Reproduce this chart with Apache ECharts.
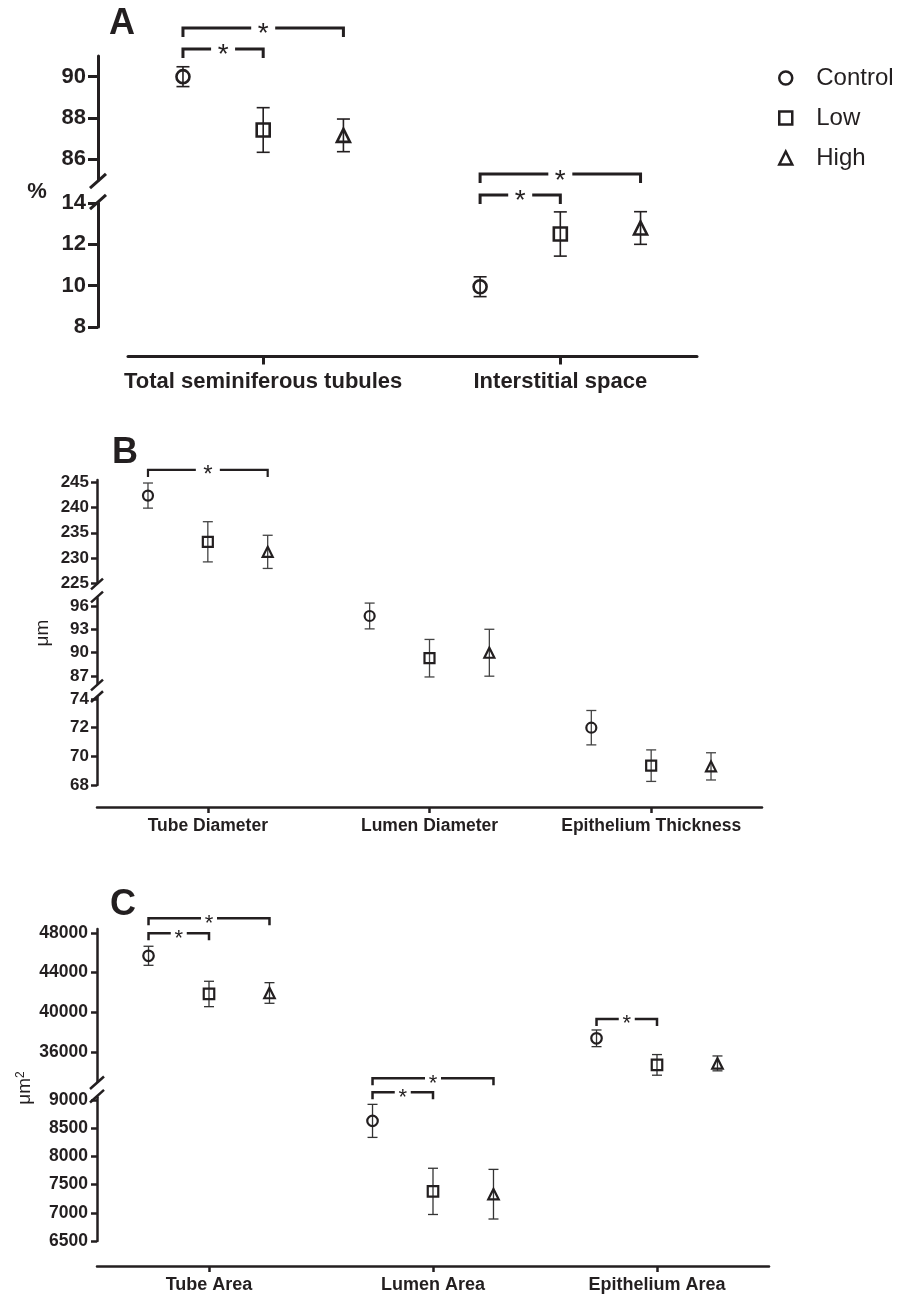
<!DOCTYPE html>
<html>
<head>
<meta charset="utf-8">
<script src="https://cdn.jsdelivr.net/npm/echarts@6/dist/echarts.min.js"></script>
<style>
  html, body { margin: 0; padding: 0; background: #fff; }
  #chart { width: 901px; height: 1300px; }
</style>
</head>
<body>
<div id="chart"></div>
<script>
// groups shown in the legend
var groups = ['Control', 'Low', 'High'];

// Panel A (%)
var catsA = ['Total seminiferous tubules', 'Interstitial space'];
var aControl = [90.0, 9.95];
var aControlErr = [0.48, 0.48];
var aLow = [87.42, 12.5];
var aLowErr = [1.08, 1.07];
var aHigh = [87.16, 12.79];
var aHighErr = [0.79, 0.79];
var aSegMin = [85, 8];
var aSegMax = [91, 14];
var aTicks = [[86, 88, 90], [8, 10, 12, 14]];
// [category, from group, to group, bracket level]
var aBrackets = [[0, 0, 2, 92.36], [0, 0, 1, 91.34], [1, 0, 2, 15.4], [1, 0, 1, 14.39]];

// Panel B (um)
var catsB = ['Tube Diameter', 'Lumen Diameter', 'Epithelium Thickness'];
var bControl = [242.4, 94.7, 72.0];
var bControlErr = [2.5, 1.65, 1.2];
var bLow = [233.2, 89.3, 69.35];
var bLowErr = [4.0, 2.4, 1.1];
var bHigh = [231.2, 90.0, 69.3];
var bHighErr = [3.3, 3.0, 0.95];
var bSegMin = [225, 86, 68];
var bSegMax = [245.5, 97, 74.1];
var bTicks = [[225, 230, 235, 240, 245], [87, 90, 93, 96], [68, 70, 72, 74]];
var bBrackets = [[0, 0, 2, 247.5]];

// Panel C (um2)
var catsC = ['Tube Area', 'Lumen Area', 'Epithelium Area'];
var cControl = [45700, 8630, 37380];
var cControlErr = [960, 293, 840];
var cLow = [41850, 7380, 34700];
var cLowErr = [1280, 410, 1040];
var cHigh = [41950, 7330, 34850];
var cHighErr = [1040, 440, 750];
var cSegMin = [33000, 6500];
var cSegMax = [48400, 9050];
var cTicks = [[36000, 40000, 44000, 48000], [6500, 7000, 7500, 8000, 8500, 9000]];
var cBrackets = [[0, 0, 2, 49480], [0, 0, 1, 47970], [1, 0, 2, 9385], [1, 0, 1, 9137], [2, 0, 1, 39330]];

var INK = '#231f20';
var FONT = 'Liberation Sans, Arial, Helvetica, sans-serif';
var symbols = ['circle', 'rect', 'triangle'];
var offsets = [-0.27, 0, 0.27];

// layout + style for each panel
var panels = [
  {
    cats: catsA, means: [aControl, aLow, aHigh], errs: [aControlErr, aLowErr, aHighErr],
    segMin: aSegMin, segMax: aSegMax, ticks: aTicks, brackets: aBrackets,
    left: 128, right: 204, yOffset: 30, xOffset: 29.5, xMin: -0.455, xMax: 1.46,
    segs: [[56, 124], [203, 124]],
    axisW: 3, tickLen: 10, xTickLen: 8, yFont: 22, xFont: 22, yMargin: 12, xMargin: 14,
    symSize: 13, symBorder: 2.6, errW: 1.6, cap: 6.5, errColor: INK,
    brW: 3, leg: 9, gap: 12, starFont: 28, slash: 8
  },
  {
    cats: catsB, means: [bControl, bLow, bHigh], errs: [bControlErr, bLowErr, bHighErr],
    segMin: bSegMin, segMax: bSegMax, ticks: bTicks, brackets: bBrackets,
    left: 97, right: 139, yOffset: 0, xOffset: 22, xMin: -0.5, xMax: 2.5,
    segs: [[480, 103], [598, 86], [697.6, 87.4]],
    axisW: 2.5, tickLen: 6, xTickLen: 6, yFont: 17, xFont: 17.5, yMargin: 8, xMargin: 10,
    symSize: 10, symBorder: 2.2, errW: 1.3, cap: 5, errColor: '#444',
    brW: 2.2, leg: 7, gap: 12, starFont: 24, slash: 6
  },
  {
    cats: catsC, means: [cControl, cLow, cHigh], errs: [cControlErr, cLowErr, cHighErr],
    segMin: cSegMin, segMax: cSegMax, ticks: cTicks, brackets: cBrackets,
    left: 97, right: 132, yOffset: 0, xOffset: 25, xMin: -0.5, xMax: 2.5,
    segs: [[929, 152.75], [1097.2, 143.8]],
    axisW: 2.5, tickLen: 6, xTickLen: 6, yFont: 17.5, xFont: 18, yMargin: 9, xMargin: 10,
    symSize: 10.5, symBorder: 2.2, errW: 1.3, cap: 5, errColor: '#333',
    brW: 2.5, leg: 7, gap: 8, starFont: 22, slash: 7
  }
];

function segOf(v, p) {
  for (var s = 0; s < p.segMin.length; s++) {
    if (v >= p.segMin[s] && v <= p.segMax[s]) return s;
  }
  return -1;
}

function errRender(p) {
  return function (params, api) {
    var x = api.value(0);
    var a = api.coord([x, api.value(2)]);
    var b = api.coord([x, api.value(1)]);
    var st = { stroke: p.errColor, lineWidth: p.errW };
    return {
      type: 'group',
      children: [
        { type: 'line', shape: { x1: a[0], y1: a[1], x2: b[0], y2: b[1] }, style: st },
        { type: 'line', shape: { x1: a[0] - p.cap, y1: a[1], x2: a[0] + p.cap, y2: a[1] }, style: st },
        { type: 'line', shape: { x1: b[0] - p.cap, y1: b[1], x2: b[0] + p.cap, y2: b[1] }, style: st }
      ]
    };
  };
}

function bracketRender(p) {
  return function (params, api) {
    var y = api.value(2);
    var a = api.coord([api.value(0), y]);
    var b = api.coord([api.value(1), y]);
    var mid = (a[0] + b[0]) / 2;
    var st = { stroke: INK, lineWidth: p.brW, fill: null };
    return {
      type: 'group',
      children: [
        { type: 'polyline', shape: { points: [[a[0], a[1] + p.leg], [a[0], a[1]], [mid - p.gap, a[1]]] }, style: st },
        { type: 'polyline', shape: { points: [[mid + p.gap, a[1]], [b[0], a[1]], [b[0], a[1] + p.leg]] }, style: st },
        { type: 'text', style: { text: '*', x: mid, y: a[1] + p.starFont * 0.24, align: 'center', verticalAlign: 'middle',
          font: p.starFont + 'px ' + FONT, fill: INK } }
      ]
    };
  };
}

var grids = [], xAxes = [], yAxes = [], series = [], graphics = [];

panels.forEach(function (p) {
  var nSeg = p.segs.length;
  var catIdx = p.cats.map(function (c, i) { return i; });
  for (var s = 0; s < nSeg; s++) {
    var gi = grids.length;
    var last = s === nSeg - 1;
    grids.push({ left: p.left, right: p.right, top: p.segs[s][0], height: p.segs[s][1] });
    xAxes.push({
      gridIndex: gi, type: 'value', min: p.xMin, max: p.xMax, show: last,
      offset: p.xOffset,
      axisLine: { show: true, onZero: false, lineStyle: { color: INK, width: p.axisW } },
      axisTick: { show: true, customValues: catIdx, length: p.xTickLen, lineStyle: { color: INK, width: p.axisW } },
      axisLabel: {
        show: true, customValues: catIdx, margin: p.xMargin,
        formatter: (function (cats) { return function (v) { return cats[Math.round(v)]; }; })(p.cats),
        color: INK, fontSize: p.xFont, fontWeight: 'bold', fontFamily: FONT
      },
      splitLine: { show: false }
    });
    yAxes.push({
      gridIndex: gi, type: 'value', min: p.segMin[s], max: p.segMax[s], offset: p.yOffset,
      axisLine: { show: true, onZero: false, lineStyle: { color: INK, width: p.axisW } },
      axisTick: { show: true, customValues: p.ticks[s], length: p.tickLen, lineStyle: { color: INK, width: p.axisW } },
      axisLabel: { show: true, customValues: p.ticks[s], margin: p.yMargin, color: INK,
        formatter: function (v) { return String(v); },
        fontSize: p.yFont, fontWeight: 'bold', fontFamily: FONT },
      splitLine: { show: false }
    });

    groups.forEach(function (g, k) {
      var pts = [], bars = [];
      p.means[k].forEach(function (m, c) {
        if (segOf(m, p) !== s) return;
        var x = c + offsets[k];
        pts.push([x, m]);
        bars.push([x, m - p.errs[k][c], m + p.errs[k][c]]);
      });
      series.push({
        type: 'custom', name: g + ' SEM', xAxisIndex: gi, yAxisIndex: gi, z: 2, silent: true,
        renderItem: errRender(p), encode: { x: 0, y: [1, 2] }, data: bars
      });
      series.push({
        type: 'scatter', name: g, xAxisIndex: gi, yAxisIndex: gi, z: 3, silent: true,
        symbol: symbols[k], symbolSize: p.symSize, data: pts,
        itemStyle: { color: 'rgba(0,0,0,0)', borderColor: INK, borderWidth: p.symBorder, opacity: 1 }
      });
    });

    var br = p.brackets.filter(function (b) { return segOf(p.means[0][b[0]], p) === s; })
      .map(function (b) { return [b[0] + offsets[b[1]], b[0] + offsets[b[2]], b[3]]; });
    if (br.length) {
      series.push({
        type: 'custom', name: 'sig', xAxisIndex: gi, yAxisIndex: gi, z: 4, silent: true,
        renderItem: bracketRender(p), encode: { x: [0, 1], y: 2 }, data: br
      });
    }

    // break marks on the y axis
    var ax = p.left - p.yOffset;
    var d = p.slash;
    if (!last) {
      var yb = p.segs[s][0] + p.segs[s][1] + 1;
      graphics.push({ type: 'line', shape: { x1: ax - d, y1: yb + d * 0.9, x2: ax + d, y2: yb - d * 0.9 },
        style: { stroke: INK, lineWidth: p.axisW } });
    }
    if (s > 0) {
      var yt = p.segs[s][0] - 1;
      graphics.push({ type: 'line', shape: { x1: ax - d, y1: yt + d * 0.9, x2: ax + d, y2: yt - d * 0.9 },
        style: { stroke: INK, lineWidth: p.axisW } });
    }
  }
});

// panel letters and unit labels
graphics.push(
  { type: 'text', x: 109, y: 24, style: { text: 'A', font: 'bold 36px ' + FONT, fill: INK, verticalAlign: 'middle' } },
  { type: 'text', x: 112, y: 453, style: { text: 'B', font: 'bold 36px ' + FONT, fill: INK, verticalAlign: 'middle' } },
  { type: 'text', x: 110, y: 905, style: { text: 'C', font: 'bold 36px ' + FONT, fill: INK, verticalAlign: 'middle' } },
  { type: 'text', x: 37, y: 192, style: { text: '%', font: 'bold 22px ' + FONT, fill: INK, align: 'center', verticalAlign: 'middle' } },
  { type: 'text', x: 43, y: 633, rotation: Math.PI / 2,
    style: { text: 'μm', font: '19px ' + FONT, fill: INK, align: 'center', verticalAlign: 'middle' } },
  { type: 'text', x: 25, y: 1088, rotation: Math.PI / 2,
    style: { text: '{a|μm}{b|2}', fill: INK, align: 'center', verticalAlign: 'middle',
      rich: { a: { fontSize: 19, fontFamily: FONT, fill: INK, color: INK },
              b: { fontSize: 12, fontFamily: FONT, fill: INK, color: INK, verticalAlign: 'top', padding: [0, 0, 8, 0] } } } }
);

var chart = echarts.init(document.getElementById('chart'));
chart.setOption({
  animation: false,
  backgroundColor: '#fff',
  legend: {
    data: groups, orient: 'vertical', left: 773, top: 61,
    itemWidth: 13, itemHeight: 13, itemGap: 16,
    itemStyle: { color: 'rgba(0,0,0,0)', borderColor: INK, borderWidth: 2.5 },
    textStyle: { fontSize: 24, fontFamily: FONT, color: INK, padding: [0, 0, 0, 19] },
    selectedMode: false
  },
  grid: grids,
  xAxis: xAxes,
  yAxis: yAxes,
  series: series,
  graphic: graphics
});
</script>
</body>
</html>
